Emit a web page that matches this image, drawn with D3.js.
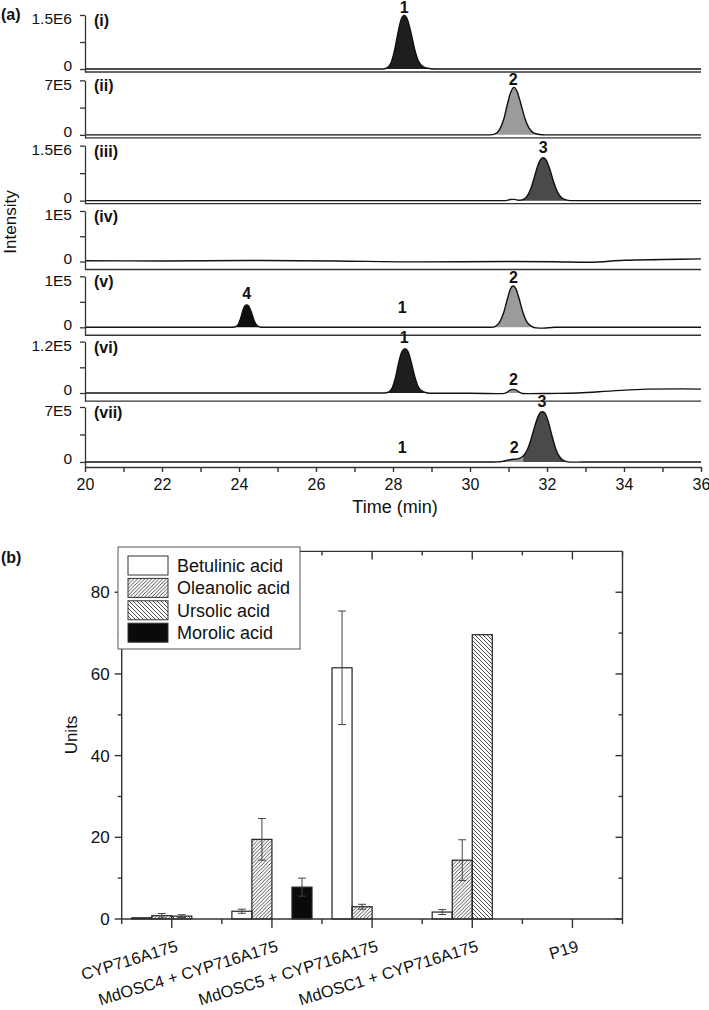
<!DOCTYPE html>
<html><head><meta charset="utf-8">
<script src="https://cdn.jsdelivr.net/npm/d3@7"></script>
<style>
body{margin:0;background:#fff}
svg{display:block}
text{font-family:"Liberation Sans",Arial,Helvetica,sans-serif;fill:#111}
</style>
</head><body>
<svg id="c" width="709" height="1010"></svg>
<script>
// ---------------- DATA (a) chromatograms ----------------
const panelNames = ["(i)","(ii)","(iii)","(iv)","(v)","(vi)","(vii)"];
const panelMax = [1.5e6, 7e5, 1.5e6, 1e5, 1e5, 1.2e5, 7e5];
const panelMaxLabels = ["1.5E6","7E5","1.5E6","1E5","1E5","1.2E5","7E5"];
const panelMin = [-0.083e6, -0.38e5, -0.082e6, -0.157e5, -0.157e5, -0.19e5, -0.64e5];
const timeTicks = [20,21,22,23,24,25,26,27,28,29,30,31,32,33,34,35,36];

const trace1 = [[20,0],[27.74,0],[27.84,0.03e6],[27.94,0.15e6],[28.04,0.52e6],[28.14,1.06e6],[28.22,1.4e6],[28.29,1.49e6],[28.37,1.39e6],[28.46,1.04e6],[28.56,0.56e6],[28.66,0.22e6],[28.79,0.06e6],[28.94,0.015e6],[29.14,0],[36,0]];
const trace2 = [[20,0],[30.52,0],[30.64,0.1e5],[30.76,0.6e5],[30.87,1.9e5],[30.97,3.9e5],[31.06,5.5e5],[31.14,6.1e5],[31.22,5.6e5],[31.32,4.0e5],[31.42,2.2e5],[31.53,0.9e5],[31.65,0.25e5],[31.8,0.05e5],[31.95,0],[36,0]];
const trace3 = [[20,0],[30.9,0],[31.05,0.03e6],[31.15,0.035e6],[31.27,0.01e6],[31.35,0.02e6],[31.47,0.1e6],[31.58,0.33e6],[31.68,0.67e6],[31.77,0.98e6],[31.84,1.13e6],[31.9,1.17e6],[31.97,1.12e6],[32.06,0.9e6],[32.16,0.55e6],[32.27,0.24e6],[32.38,0.08e6],[32.5,0.02e6],[32.6,0],[36,0]];
const trace4 = [[20,0.015e5],[22,0.012e5],[24.2,0.02e5],[26.5,0.01e5],[28.6,-0.006e5],[31,0],[32.2,-0.005e5],[33.1,-0.014e5],[34,0.026e5],[35,0.04e5],[36,0.053e5]];
const trace5 = [[20,0],[23.85,0],[23.95,0.03e5],[24.03,0.15e5],[24.1,0.33e5],[24.16,0.43e5],[24.2,0.44e5],[24.25,0.42e5],[24.32,0.3e5],[24.4,0.12e5],[24.48,0.03e5],[24.58,0],[30.55,0],[30.66,0.02e5],[30.77,0.1e5],[30.88,0.3e5],[30.98,0.58e5],[31.06,0.77e5],[31.12,0.81e5],[31.19,0.76e5],[31.28,0.55e5],[31.38,0.28e5],[31.48,0.1e5],[31.6,0.02e5],[31.72,-0.01e5],[31.9,-0.015e5],[32.2,0],[36,0]];
const trace6 = [[20,0],[27.78,0],[27.88,0.02e5],[27.98,0.12e5],[28.07,0.38e5],[28.15,0.72e5],[28.23,0.96e5],[28.31,1.035e5],[28.39,0.97e5],[28.47,0.73e5],[28.56,0.4e5],[28.66,0.14e5],[28.78,0.03e5],[28.95,-0.005e5],[30.0,-0.005e5],[30.85,-0.015e5],[30.95,0.01e5],[31.03,0.06e5],[31.12,0.085e5],[31.2,0.07e5],[31.28,0.02e5],[31.36,-0.01e5],[31.6,-0.015e5],[32.0,-0.01e5],[32.8,0],[33.7,0.05e5],[34.6,0.09e5],[35.5,0.097e5],[36,0.092e5]];
const trace7 = [[20,0],[30.6,0],[30.72,0.01e5],[30.85,0.08e5],[30.97,0.22e5],[31.08,0.32e5],[31.18,0.35e5],[31.28,0.45e5],[31.38,0.75e5],[31.48,1.45e5],[31.58,2.8e5],[31.68,4.5e5],[31.77,5.8e5],[31.84,6.35e5],[31.88,6.4e5],[31.94,6.25e5],[32.03,5.2e5],[32.13,3.3e5],[32.24,1.5e5],[32.35,0.5e5],[32.47,0.1e5],[32.6,-0.02e5],[32.8,-0.02e5],[33.1,0],[36,0]];
const traces = [trace1, trace2, trace3, trace4, trace5, trace6, trace7];

// filled peak regions
const peakPanel    = [0, 1, 2, 4, 4, 5, 5, 6, 6];
const peakCompound = ["1","2","3","4","2","1","2","2","3"];
const peakStart    = [27.74, 30.52, 31.27, 23.85, 30.55, 27.78, 30.85, 30.72, 31.38];
const peakEnd      = [29.14, 31.95, 32.6, 24.58, 31.72, 28.95, 31.36, 31.38, 32.6];

// peak number labels
const labelPanel = [0, 1, 2, 4, 4, 4, 5, 5, 6, 6, 6];
const labelText  = ["1","2","3","4","1","2","1","2","3","1","2"];
const labelTime  = [28.29, 31.12, 31.9, 24.2, 28.24, 31.13, 28.29, 31.13, 31.87, 28.24, 31.15];
const labelValue = [1.564e6, 6.45e5, 1.30e6, 0.563e5, 0.288e5, 0.877e5, 1.17e5, 0.188e5, 7.04e5, 1.1e5, 1.1e5];

// ---------------- DATA (b) bars ----------------
const categories = ["CYP716A175","MdOSC4 + CYP716A175","MdOSC5 + CYP716A175","MdOSC1 + CYP716A175","P19"];
const seriesNames = ["Betulinic acid","Oleanolic acid","Ursolic acid","Morolic acid"];
const betulinic    = [0.3, 1.9, 61.5, 1.7, 0];
const betulinicErr = [0, 0.5, 13.9, 0.6, 0];
const oleanolic    = [0.8, 19.5, 3.0, 14.4, 0];
const oleanolicErr = [0.55, 5.1, 0.6, 5.0, 0];
const ursolic      = [0.7, 0, 0, 69.6, 0];
const ursolicErr   = [0.35, 0, 0, 0, 0];
const morolic      = [0, 7.8, 0, 0, 0];
const morolicErr   = [0, 2.2, 0, 0, 0];
const unitTicks = [0, 20, 40, 60, 80];
const unitMinorTicks = [10, 30, 50, 70];

// ---------------- STYLES ----------------
const peakFill = {"1":"#1e1e1e","2":"#9b9b9b","3":"#4a4a4a","4":"#0e0e0e"};
const axisColor = "#333";

const svg = d3.select("#c");

// ================= PANEL (a) =================
const xA = d3.scaleLinear().domain([20, 36]).range([85, 701]);

svg.append("text").attr("x", 1).attr("y", 20).attr("font-size", 16).attr("font-weight", "bold").text("(a)");

panelNames.forEach((name, k) => {
  const top = 15 + 65.33 * k;
  const bottom = 72 + 65.83 * k;
  const y = d3.scaleLinear().domain([panelMin[k], panelMax[k]]).range([bottom, top]);
  const g = svg.append("g");

  // filled peaks
  peakPanel.forEach((p, j) => {
    if (p !== k) return;
    const pts = traces[k].filter(d => d[0] >= peakStart[j] - 1e-9 && d[0] <= peakEnd[j] + 1e-9);
    g.append("path")
      .attr("d", d3.area().x(d => xA(d[0])).y0(y(0)).y1(d => y(d[1])).curve(d3.curveMonotoneX)(pts))
      .attr("fill", peakFill[peakCompound[j]]);
  });

  // trace line
  g.append("path")
    .attr("d", d3.line().x(d => xA(d[0])).y(d => y(d[1])).curve(d3.curveMonotoneX)(traces[k]))
    .attr("fill", "none").attr("stroke", "#111").attr("stroke-width", 1.4);

  // y axis
  const ya = g.append("g").attr("transform", "translate(85,0)")
    .call(d3.axisLeft(y).tickValues([0, panelMax[k] / 2, panelMax[k]])
      .tickSize(5).tickSizeOuter(0).tickPadding(8)
      .tickFormat((d, i) => i === 0 ? "0" : (i === 2 ? panelMaxLabels[k] : "")));
  ya.selectAll("path,line").attr("stroke", axisColor).attr("stroke-width", 1.3);
  ya.selectAll("text").attr("font-size", 15.5).attr("fill", "#111")
    .attr("font-family", '"Liberation Sans",Arial,sans-serif');
  // nudge labels apart as in the reference (0 slightly above, max slightly below)
  ya.selectAll(".tick text").attr("y", (d, i) => i === 0 ? -3 : (i === 2 ? 4 : 0));

  // bottom frame / x axis
  if (k < panelNames.length - 1) {
    g.append("line").attr("x1", 85).attr("x2", 701).attr("y1", bottom).attr("y2", bottom)
      .attr("stroke", axisColor).attr("stroke-width", 1.4);
  } else {
    const xa = g.append("g").attr("transform", `translate(0,${bottom})`)
      .call(d3.axisBottom(xA).tickValues(timeTicks).tickSize(5).tickSizeOuter(0).tickPadding(7)
        .tickFormat(d => d % 2 === 0 ? d : ""));
    xa.selectAll("path,line").attr("stroke", axisColor).attr("stroke-width", 1.4);
    xa.selectAll("text").attr("font-size", 16).attr("fill", "#111")
      .attr("font-family", '"Liberation Sans",Arial,sans-serif');
  }

  // panel label
  g.append("text").attr("x", 94).attr("y", top + 11).attr("font-size", 16)
    .attr("font-weight", "bold").text(name);

  // peak number labels
  labelPanel.forEach((p, j) => {
    if (p !== k) return;
    g.append("text").attr("x", xA(labelTime[j])).attr("y", y(labelValue[j]))
      .attr("text-anchor", "middle").attr("font-size", 16).attr("font-weight", "bold")
      .text(labelText[j]);
  });
});

svg.append("text").attr("transform", "translate(16,222) rotate(-90)")
  .attr("text-anchor", "middle").attr("font-size", 17).text("Intensity");
svg.append("text").attr("x", 395).attr("y", 513).attr("text-anchor", "middle")
  .attr("font-size", 18).text("Time (min)");

// ================= PANEL (b) =================
const bL = 121.7, bR = 622.5, bT = 551.4, bB = 919;
const x0 = d3.scaleBand().domain(categories).range([bL, bR]).paddingInner(0.2).paddingOuter(0.1);
const x1 = d3.scaleBand().domain(seriesNames).range([0, x0.bandwidth()]);
const yB = d3.scaleLinear().domain([0, 90]).range([bB, bT]);

const defs = svg.append("defs");
const pO = defs.append("pattern").attr("id", "hatchO").attr("patternUnits", "userSpaceOnUse")
  .attr("width", 3.6).attr("height", 3.6);
pO.append("path").attr("d", "M-1,1 L1,-1 M0,3.6 L3.6,0 M2.6,4.6 L4.6,2.6")
  .attr("stroke", "#222").attr("stroke-width", 0.8);
const pU = defs.append("pattern").attr("id", "hatchU").attr("patternUnits", "userSpaceOnUse")
  .attr("width", 4).attr("height", 4);
pU.append("path").attr("d", "M-1,3 L1,5 M0,0 L4,4 M3,-1 L5,1")
  .attr("stroke", "#222").attr("stroke-width", 0.8);

const seriesFill = ["#fff", "url(#hatchO)", "url(#hatchU)", "#0a0a0a"];
const seriesVals = [betulinic, oleanolic, ursolic, morolic];
const seriesErrs = [betulinicErr, oleanolicErr, ursolicErr, morolicErr];

const gb = svg.append("g");
seriesNames.forEach((s, si) => {
  categories.forEach((c, ci) => {
    const v = seriesVals[si][ci];
    if (v <= 0) return;
    const bx = x0(c) + x1(s);
    gb.append("rect").attr("x", bx).attr("y", yB(v)).attr("width", x1.bandwidth())
      .attr("height", yB(0) - yB(v)).attr("fill", seriesFill[si])
      .attr("stroke", "#222").attr("stroke-width", 1.2);
  });
});
seriesNames.forEach((s, si) => {
  categories.forEach((c, ci) => {
    const v = seriesVals[si][ci], e = seriesErrs[si][ci];
    if (!(e > 0)) return;
    const cx = x0(c) + x1(s) + x1.bandwidth() / 2;
    const lo = yB(Math.max(0, v - e)), hi = yB(v + e);
    gb.append("line").attr("x1", cx).attr("x2", cx).attr("y1", lo).attr("y2", hi)
      .attr("stroke", "#444").attr("stroke-width", 1);
    [lo, hi].forEach(yy => gb.append("line").attr("x1", cx - 4).attr("x2", cx + 4)
      .attr("y1", yy).attr("y2", yy).attr("stroke", "#444").attr("stroke-width", 1));
  });
});

// frame + axes
const ax = svg.append("g").attr("stroke", axisColor).attr("stroke-width", 1.4);
ax.append("line").attr("x1", bL).attr("x2", bR).attr("y1", bB).attr("y2", bB);
ax.append("line").attr("x1", bL).attr("x2", bR).attr("y1", bT).attr("y2", bT);
ax.append("line").attr("x1", bL).attr("x2", bL).attr("y1", bT).attr("y2", bB);
ax.append("line").attr("x1", bR).attr("x2", bR).attr("y1", bT).attr("y2", bB);

// y ticks left (outward) and right (inward)
unitTicks.forEach(t => {
  ax.append("line").attr("x1", bL - 7).attr("x2", bL).attr("y1", yB(t)).attr("y2", yB(t));
  ax.append("line").attr("x1", bR - 7).attr("x2", bR).attr("y1", yB(t)).attr("y2", yB(t));
  svg.append("text").attr("x", bL - 12).attr("y", yB(t)).attr("dy", "0.35em")
    .attr("text-anchor", "end").attr("font-size", 17).text(t);
});
unitMinorTicks.forEach(t => {
  ax.append("line").attr("x1", bL - 4).attr("x2", bL).attr("y1", yB(t)).attr("y2", yB(t));
  ax.append("line").attr("x1", bR - 4).attr("x2", bR).attr("y1", yB(t)).attr("y2", yB(t));
});
// x ticks: major at category centers, minor at category boundaries
categories.forEach(c => {
  const cx = x0(c) + x0.bandwidth() / 2;
  ax.append("line").attr("x1", cx).attr("x2", cx).attr("y1", bB).attr("y2", bB + 9);
  ax.append("line").attr("x1", cx).attr("x2", cx).attr("y1", bT).attr("y2", bT + 8);
  svg.append("text").attr("transform", `translate(${cx + 7},951) rotate(-17)`)
    .attr("text-anchor", "end").attr("font-size", 16.5).text(c);
});
d3.range(categories.length + 1).forEach(i => {
  const bx = bL + i * x0.step();
  ax.append("line").attr("x1", bx).attr("x2", bx).attr("y1", bB).attr("y2", bB + 5);
  ax.append("line").attr("x1", bx).attr("x2", bx).attr("y1", bT).attr("y2", bT + 4);
});

svg.append("text").attr("transform", "translate(77,735) rotate(-90)")
  .attr("text-anchor", "middle").attr("font-size", 17).text("Units");
svg.append("text").attr("x", 1).attr("y", 563).attr("font-size", 16).attr("font-weight", "bold").text("(b)");

// legend
const lg = svg.append("g");
lg.append("rect").attr("x", 118).attr("y", 547).attr("width", 182).attr("height", 102)
  .attr("fill", "#fff").attr("stroke", "#555").attr("stroke-width", 1);
seriesNames.forEach((s, i) => {
  const yy = 556 + i * 22.4;
  lg.append("rect").attr("x", 128).attr("y", yy).attr("width", 40).attr("height", 19)
    .attr("fill", seriesFill[i]).attr("stroke", "#333").attr("stroke-width", 1);
  lg.append("text").attr("x", 177).attr("y", yy + 16).attr("font-size", 18).text(s);
});
</script>
</body></html>
